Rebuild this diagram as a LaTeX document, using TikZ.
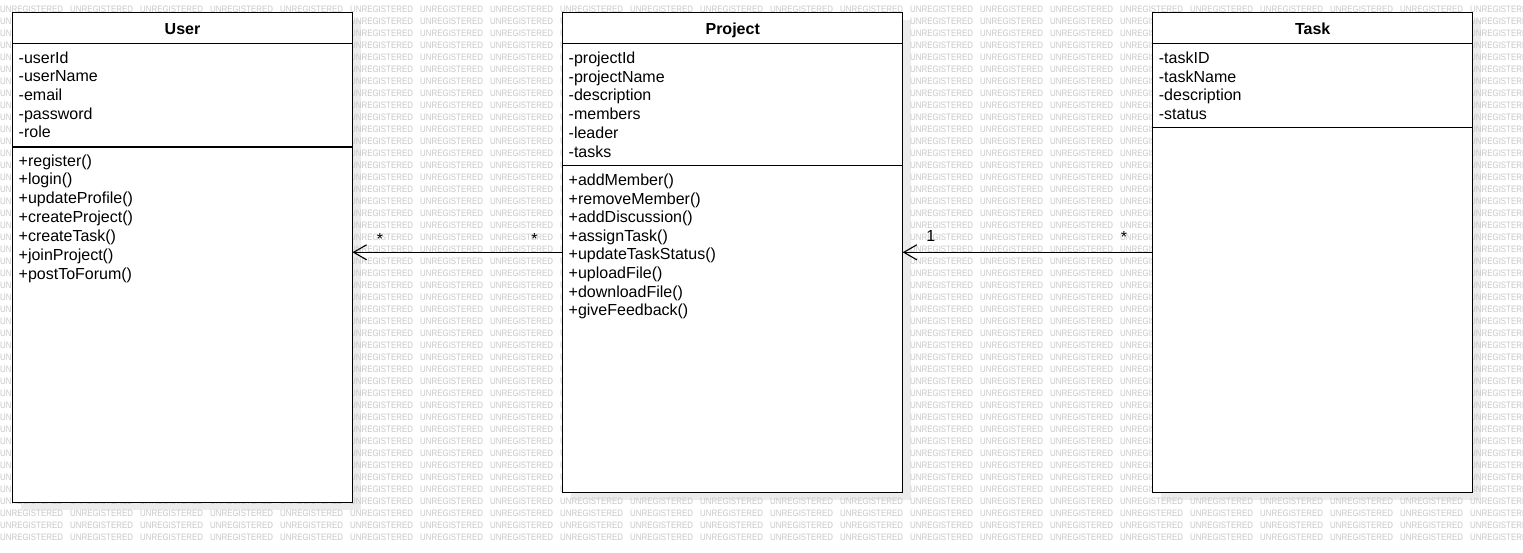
\documentclass[tikz,border=0pt]{standalone}
\usepackage{fontspec}
\setmainfont{Liberation Sans}
\newfontfamily\wmfont[FakeStretch=0.85]{Liberation Sans}
\usetikzlibrary{arrows.meta}
\definecolor{wmgray}{RGB}{200,200,200}
\definecolor{shadowgray}{RGB}{236,236,236}
\tikzset{
  box/.style={draw=black, fill=white, line width=1.3pt, inner sep=0pt, outer sep=0pt, anchor=north west},
  divider/.style={draw=black, line width=1.3pt},
  txt/.style={anchor=base west, inner sep=0pt, font=\fontsize{16}{19}\selectfont},
  title/.style={anchor=base, inner sep=0pt, font=\fontsize{16}{19}\selectfont\bfseries},
  wm/.style={anchor=west, inner sep=0pt, text=wmgray, font=\wmfont\fontsize{9.3}{10}\selectfont},
  mult/.style={anchor=base, inner sep=0pt, font=\fontsize{16}{19}\selectfont},
  assoc/.style={draw=black, line width=1.1pt, -{Straight Barb[length=13pt,width=15pt,line width=1.1pt]}},
  shadowbox/.style={fill=shadowgray},
}
\begin{document}
\begin{tikzpicture}[x=1pt,y=-1pt]
\useasboundingbox (0,0) rectangle (1523,552);
\fill[white] (0,0) rectangle (1523,552);
% drop shadows
\fill[shadowbox] (20.5,20.3) rectangle (360.5,510.3);
\fill[shadowbox] (570.7,20.3) rectangle (910.7,500.3);
\fill[shadowbox] (1160.7,20.3) rectangle (1480.7,500.3);
% watermark
\foreach \r in {0,...,44}{
  \foreach \c in {0,...,21}{
    \node[wm] (wm-\r-\c) at (70*\c, 9+12*\r) {UNREGISTERED};
  }
}
% class boxes
\node[box, minimum width=340pt, minimum height=490pt] (user) at (12.5,12.3) {};
\node[box, minimum width=340pt, minimum height=480pt] (project) at (562.7,12.3) {};
\node[box, minimum width=320pt, minimum height=480pt] (task) at (1152.7,12.3) {};
% dividers
\coordinate (uh) at (0,43.3);
\coordinate (ua) at (0,147);
\coordinate (ph) at (0,43.3);
\coordinate (pa) at (0,165.7);
\coordinate (th) at (0,43.3);
\coordinate (ta) at (0,127.7);
\draw[divider] (user.west |- uh) -- (user.east |- uh);
\draw[divider] (user.west |- ua) -- (user.east |- ua);
\draw[divider] (project.west |- ph) -- (project.east |- ph);
\draw[divider] (project.west |- pa) -- (project.east |- pa);
\draw[divider] (task.west |- th) -- (task.east |- th);
\draw[divider] (task.west |- ta) -- (task.east |- ta);
% titles
\node[title] (user-t) at (182.5,34) {User};
\node[title] (project-t) at (732.7,34) {Project};
\node[title] (task-t) at (1312.7,34) {Task};
% User
\foreach \t [count=\i from 0] in {-userId,-userName,-email,-password,-role}
  \node[txt] (user-a\i) at (18.5, 63.3+18.6*\i) {\t};
\foreach \t [count=\i from 0] in {+register(),+login(),+updateProfile(),+createProject(),+createTask(),+joinProject(),+postToForum()}
  \node[txt] (user-m\i) at (18.5, 166+18.85*\i) {\t};
% Project
\foreach \t [count=\i from 0] in {-projectId,-projectName,-description,-members,-leader,-tasks}
  \node[txt] (project-a\i) at (568.5, 63.3+18.75*\i) {\t};
\foreach \t [count=\i from 0] in {+addMember(),+removeMember(),+addDiscussion(),+assignTask(),+updateTaskStatus(),+uploadFile(),+downloadFile(),+giveFeedback()}
  \node[txt] (project-m\i) at (568.5, 185.5+18.6*\i) {\t};
% Task
\foreach \t [count=\i from 0] in {-taskID,-taskName,-description,-status}
  \node[txt] (task-a\i) at (1158.7, 63.3+18.75*\i) {\t};
% associations
\draw[assoc] (project.west) -- (project.west -| user.east);
\draw[assoc] (task.west) -- (project.east);
% multiplicities
\node[mult] (m-u) at (380,244.5) {*};
\node[mult] (m-pu) at (534.5,244.5) {*};
\node[mult] (m-pt) at (930.7,241) {1};
\node[mult] (m-t) at (1124,242) {*};
\end{tikzpicture}
\end{document}
